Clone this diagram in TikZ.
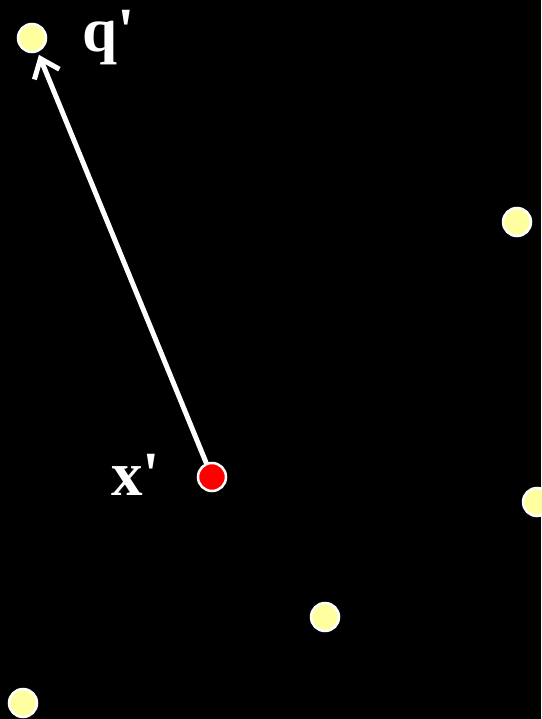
\documentclass[tikz,border=0pt]{standalone}
\usepackage{fontspec}
\newfontfamily\lblfont{Liberation Serif}
\usetikzlibrary{positioning, arrows.meta}
\pgfdeclarelayer{bg}
\pgfsetlayers{bg,main}

\tikzset{
  site/.style={circle, draw=white, line width=2.5pt, fill=siteyellow,
    minimum size=28pt, inner sep=0pt},
  query/.style={site, fill=red},
  lbl/.style={text=white, inner sep=0pt,
    font=\lblfont\bfseries\fontsize{63}{63}\selectfont},
  vec/.style={white, line width=5pt,
    -{Straight Barb[length=17pt, width=27pt]}}
}
\definecolor{siteyellow}{RGB}{255,255,160}

\begin{document}
\begin{tikzpicture}[x=1pt, y=-1pt]
    \useasboundingbox (0,0) rectangle (541,719);

    % Sites
    \node[site] (qp) at (32,38) {};
    \node[site] (s1) at (517,222) {};
    \node[site] (s2) at (537,502) {};
    \node[site] (s3) at (325,617) {};
    \node[site] (s4) at (23,703) {};

    % Query point
    \node[query] (xp) at (212,477) {};

    % Background and vector from x' to q'
    \begin{pgfonlayer}{bg}
        \fill[black] (0,0) rectangle (541,719);
        \draw[vec, shorten >=3pt] (xp.center) -- (qp);
    \end{pgfonlayer}

    % Labels
    \node[lbl, anchor=base west] (lq) at (82,52) {q'};
    \node[lbl, anchor=base west] (lx) at (111,495) {x'};
\end{tikzpicture}
\end{document}
